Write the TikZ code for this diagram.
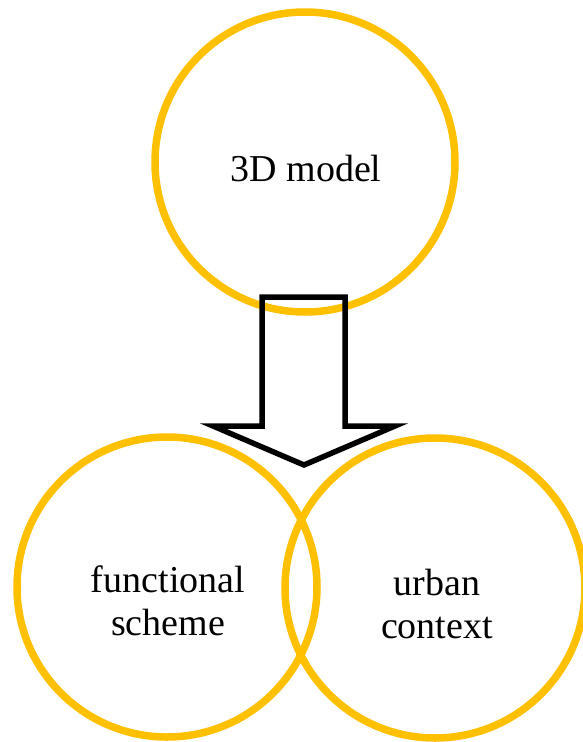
\documentclass[tikz,border=0pt]{standalone}
\usepackage{fontspec}
\setmainfont{Liberation Serif}
\definecolor{ring}{HTML}{FFC000}
\begin{document}
\begin{tikzpicture}[x=1pt,y=-1pt,
  ring/.style={circle,draw=ring,line width=7.5pt,minimum size=300pt,inner sep=0pt},
  label/.style={align=center,font=\fontsize{38}{43}\selectfont,inner sep=0pt},
  bigarrow/.style={draw=black,line width=5.5pt,miter limit=10,line join=miter}]
\useasboundingbox (0,0) rectangle (583,742);
% three circles
\node[ring] (model) at (305,162) {};
\node[ring] (func) at (167,587) {};
\node[ring] (urban) at (435,588) {};
% texts
\node[label] (tmodel) at (306,168) {3D model};
\node[label] (tfunc) at (168,601) {functional\\scheme};
\node[label] (turban) at (437,604) {urban\\context};
% hollow block arrow from the model down to the two inputs
\coordinate (tip) at (304,465);
\draw[bigarrow] (262,297) -- (345,297) -- (345,426) -- (395,426) -- (tip)
  -- (213,426) -- (262,426) -- cycle;
\end{tikzpicture}
\end{document}
